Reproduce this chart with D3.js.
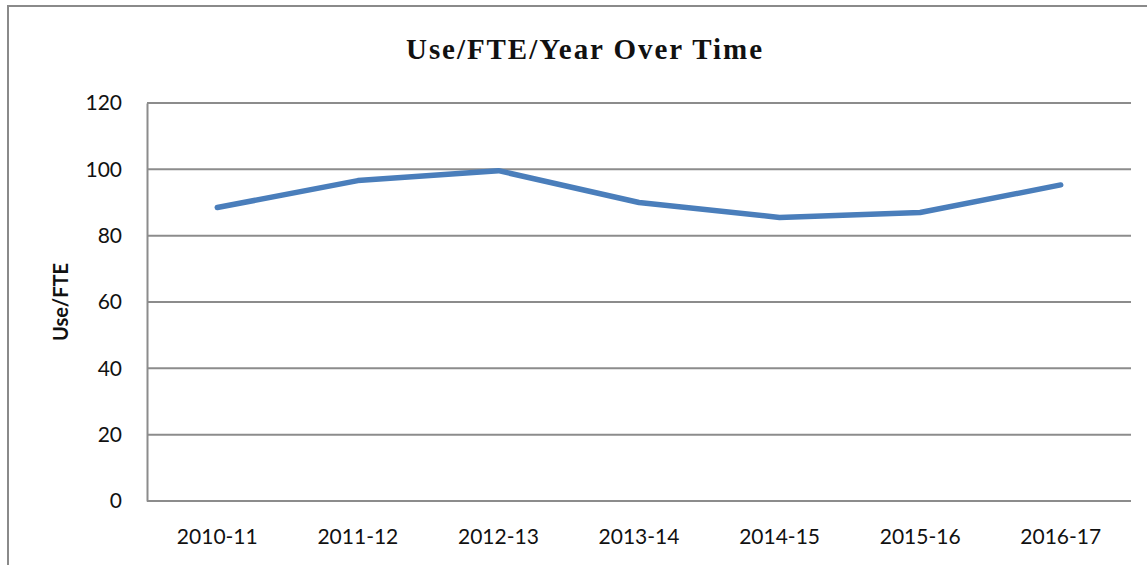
<!DOCTYPE html>
<html><head><meta charset="utf-8">
<script src="https://cdn.jsdelivr.net/npm/d3@7"></script>
<style>body{margin:0;background:#fff}svg{display:block}</style>
</head><body><svg id="c" width="1147" height="565"></svg>
<script>
const categories = ["2010-11","2011-12","2012-13","2013-14","2014-15","2015-16","2016-17"];
const values = [88.5, 96.6, 99.6, 90.0, 85.5, 87.0, 95.3];
const yTicks = [0,20,40,60,80,100,120];
const title = "Use/FTE/Year Over Time";
const yTitle = "Use/FTE";

const svg = d3.select("#c");
const m = {left:147, top:103, right:1131, bottom:501};
const x = d3.scaleBand().domain(categories).range([m.left, m.right]);
const y = d3.scaleLinear().domain([0,120]).range([m.bottom, m.top]);

// outer border
svg.append("rect").attr("x",8).attr("y",6).attr("width",1160).attr("height",580)
  .attr("fill","none").attr("stroke","#8a8a8a").attr("stroke-width",2);

svg.append("text").attr("x",584).attr("y",59).attr("text-anchor","middle")
  .attr("font-family","'Liberation Serif', serif").attr("font-weight","bold")
  .attr("font-size",29).attr("fill","#111")
  .attr("textLength",356).attr("lengthAdjust","spacing").text(title);

// gridlines
svg.append("g").selectAll("line").data(yTicks).join("line")
  .attr("x1",m.left).attr("x2",m.right).attr("y1",d=>y(d)).attr("y2",d=>y(d))
  .attr("stroke","#8c8c8c").attr("stroke-width",2);

// y axis
const ya = svg.append("g").attr("transform",`translate(${m.left},0)`)
  .call(d3.axisLeft(y).tickValues(yTicks).tickSize(0).tickPadding(25));
ya.select(".domain").attr("stroke","#8c8c8c").attr("stroke-width",2);
ya.selectAll("text").attr("font-family","Lato, sans-serif").attr("font-size",21).attr("fill","#111");

// x axis
const xa = svg.append("g").attr("transform",`translate(0,${m.bottom})`)
  .call(d3.axisBottom(x).tickSize(0).tickPadding(28));
xa.select(".domain").remove();
xa.selectAll("text").attr("font-family","Lato, sans-serif").attr("font-size",21).attr("fill","#111");

svg.append("text").attr("transform","translate(68,302) rotate(-90)").attr("text-anchor","middle")
  .attr("font-family","Lato, sans-serif").attr("font-weight","bold").attr("font-size",20)
  .attr("fill","#111").text(yTitle);

const line = d3.line().x((d,i)=>x(categories[i])+x.bandwidth()/2).y(d=>y(d));
svg.append("path").datum(values).attr("d",line).attr("fill","none")
  .attr("stroke","#4a7ebb").attr("stroke-width",5.5).attr("stroke-linecap","round").attr("stroke-linejoin","round");
</script></body></html>
